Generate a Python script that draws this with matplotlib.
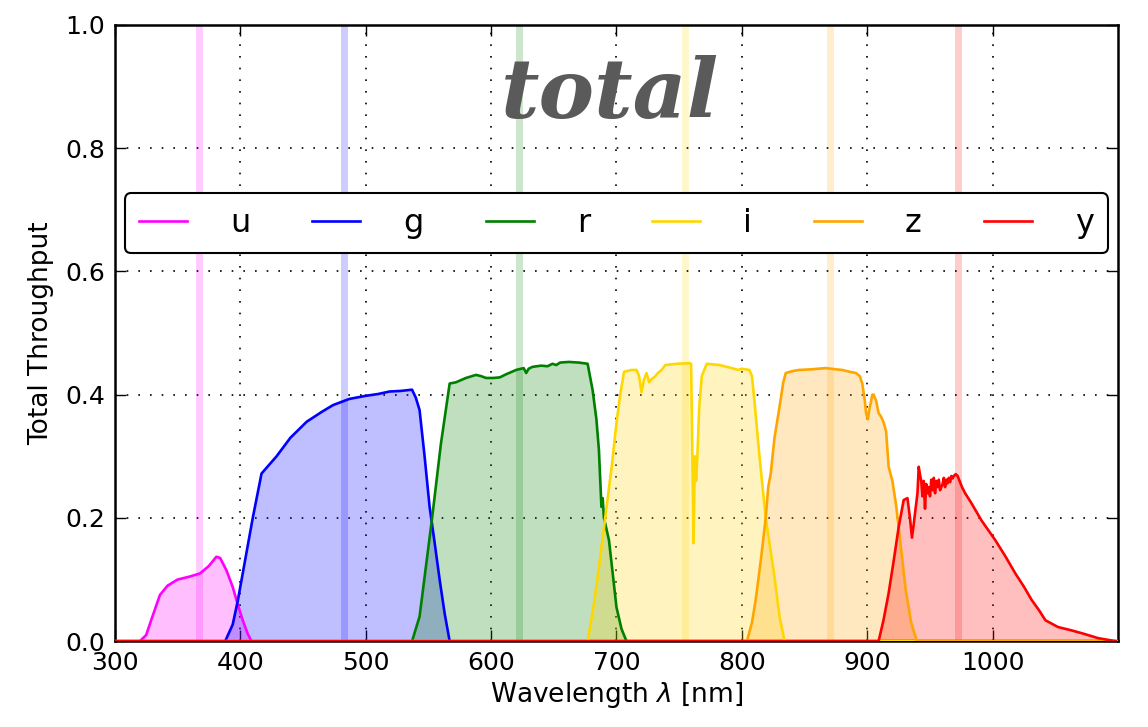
import matplotlib
matplotlib.use("Agg")
import matplotlib.pyplot as plt
import numpy as np

# ---- data ----
filters = ["u", "g", "r", "i", "z", "y"]
colors = ["magenta", "blue", "green", "gold", "orange", "red"]
eff_wavelengths = [367, 483, 622, 755, 870, 972]

u_wl = [300, 320, 325, 330, 336, 342, 350, 360, 368, 375, 381, 384, 389, 394, 398, 402, 406, 409, 1100]
u_tp = [0, 0, 0.01, 0.04, 0.075, 0.09, 0.10, 0.105, 0.11, 0.122, 0.137, 0.135, 0.115, 0.088, 0.06, 0.034, 0.012, 0, 0]

g_wl = [300, 388, 394, 398, 402, 406, 410, 417, 429, 440, 453, 465, 474, 487, 500, 510, 519, 528, 537, 540, 543, 547, 551, 555, 559, 563, 567, 1100]
g_tp = [0, 0, 0.027, 0.065, 0.11, 0.155, 0.2, 0.272, 0.30, 0.33, 0.356, 0.372, 0.383, 0.393, 0.398, 0.401, 0.405, 0.406, 0.408, 0.395, 0.375, 0.30, 0.218, 0.16, 0.10, 0.045, 0, 0]

r_wl = [300, 537, 543, 548, 553, 560, 567, 572, 580, 588, 592, 596, 602, 607, 612, 620, 626, 628, 630, 633, 640, 645, 649, 652, 655, 662, 670, 677, 681, 684, 686, 688, 689, 690, 694, 697, 700, 704, 708, 1100]
r_tp = [0, 0, 0.04, 0.12, 0.2, 0.32, 0.418, 0.42, 0.427, 0.432, 0.43, 0.427, 0.427, 0.428, 0.433, 0.44, 0.443, 0.435, 0.442, 0.445, 0.447, 0.446, 0.45, 0.448, 0.452, 0.453, 0.452, 0.45, 0.407, 0.36, 0.31, 0.218, 0.232, 0.2, 0.164, 0.11, 0.055, 0.02, 0, 0]

i_wl = [300, 677, 682, 686, 691, 696, 700, 703, 706, 712, 716, 718, 720, 722, 724, 726, 728, 731, 733, 736, 739, 748, 758, 759.5, 760.5, 761.5, 762.5, 763.5, 764.5, 766, 768, 772, 782, 792, 797, 800, 806, 808, 810, 814, 819, 825.6, 830, 834, 1100]
i_tp = [0, 0, 0.06, 0.12, 0.2, 0.28, 0.354, 0.40, 0.437, 0.44, 0.44, 0.43, 0.404, 0.425, 0.435, 0.42, 0.425, 0.43, 0.435, 0.44, 0.448, 0.45, 0.451, 0.45, 0.30, 0.159, 0.30, 0.26, 0.30, 0.38, 0.43, 0.45, 0.448, 0.443, 0.44, 0.442, 0.44, 0.43, 0.39, 0.30, 0.2, 0.11, 0.04, 0, 0]

z_wl = [300, 804, 808, 811, 815, 819, 821, 823, 826, 830, 833, 835, 840, 845.5, 855, 867, 875, 880, 886, 891, 894, 896, 898, 899, 900.5, 901.5, 902.6, 904, 905, 907, 909, 911, 913, 915, 917, 920, 923, 925, 928, 930.6, 935, 939.5, 1100]
z_tp = [0, 0, 0.03, 0.067, 0.13, 0.2, 0.25, 0.272, 0.33, 0.38, 0.42, 0.435, 0.438, 0.44, 0.441, 0.443, 0.441, 0.44, 0.437, 0.435, 0.43, 0.418, 0.39, 0.37, 0.36, 0.375, 0.385, 0.40, 0.40, 0.39, 0.37, 0.364, 0.355, 0.34, 0.283, 0.26, 0.22, 0.185, 0.13, 0.083, 0.03, 0, 0]

y_wl = [300, 909, 913, 917, 921, 925, 929, 932, 934, 935.6, 937, 938, 940, 941, 942, 943, 944, 945, 946, 947, 948, 949, 950, 951, 952, 953, 954, 955, 956, 957, 958, 959, 960, 961, 962, 963, 964, 965, 966, 967, 968, 969, 970.5, 972, 975.5, 978, 983, 991, 1002, 1010, 1018, 1025, 1031, 1037, 1042, 1052, 1062, 1071, 1084, 1098]
y_tp = [0, 0, 0.035, 0.078, 0.13, 0.185, 0.229, 0.232, 0.2, 0.168, 0.19, 0.207, 0.24, 0.283, 0.27, 0.26, 0.235, 0.26, 0.215, 0.255, 0.24, 0.25, 0.235, 0.262, 0.245, 0.265, 0.24, 0.26, 0.25, 0.262, 0.245, 0.25, 0.255, 0.265, 0.25, 0.262, 0.256, 0.265, 0.258, 0.268, 0.264, 0.268, 0.271, 0.268, 0.25, 0.24, 0.224, 0.196, 0.164, 0.138, 0.11, 0.088, 0.067, 0.05, 0.034, 0.023, 0.018, 0.013, 0.005, 0]

wl_data = [u_wl, g_wl, r_wl, i_wl, z_wl, y_wl]
tp_data = [u_tp, g_tp, r_tp, i_tp, z_tp, y_tp]

x_ticks = [300, 400, 500, 600, 700, 800, 900, 1000]
y_ticks = [0.0, 0.2, 0.4, 0.6, 0.8, 1.0]

# ---- figure ----
fig = plt.figure(figsize=(11.48, 7.27), dpi=100)
ax = fig.add_axes([0.100, 0.118, 0.874, 0.848])

for name, c, wl, tp, lam in zip(filters, colors, wl_data, tp_data, eff_wavelengths):
    ax.axvline(lam, color=c, alpha=0.2, lw=5, zorder=1)
    ax.fill_between(wl, 0, tp, color=c, alpha=0.25, lw=0, zorder=2)
    ax.plot(wl, tp, color=c, lw=1.9, label=name, zorder=3)

ax.set_xlim(300, 1100)
ax.set_ylim(0, 1.0)
ax.set_xticks(x_ticks)
ax.set_yticks(y_ticks)
ax.set_yticklabels([f"{v:.1f}" for v in y_ticks])
ax.grid(True, color="black", linestyle=(0, (1, 6)), lw=1.2)
ax.tick_params(direction="in", top=True, right=True, length=8, width=1, labelsize=18, pad=7)
for s in ax.spines.values():
    s.set_linewidth(1.8)

ax.set_xlabel(r"Wavelength $\lambda$ [nm]", fontsize=19, labelpad=4)
ax.set_ylabel("Total Throughput", fontsize=19, labelpad=8)

ax.text(0.494, 0.886, "total", transform=ax.transAxes, ha="center", va="center",
        fontsize=60, family="DejaVu Serif", style="italic", weight="bold", color="#5a5a5a")

leg = ax.legend(loc="center", bbox_to_anchor=(0.010, 0.678, 0.980, 0.0), mode="expand",
                ncol=6, fontsize=23, frameon=True, fancybox=True, handlelength=1.5,
                handletextpad=1.35, borderpad=0.45, borderaxespad=0)
leg.get_frame().set_edgecolor("black")
leg.get_frame().set_linewidth(1.5)
leg.get_frame().set_alpha(1.0)

fig.savefig("out.png", dpi=100)
